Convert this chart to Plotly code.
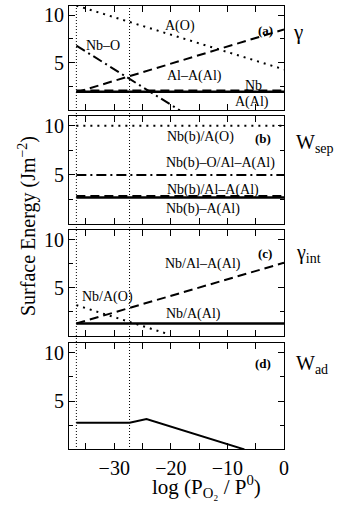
import plotly.graph_objects as go
from plotly.subplots import make_subplots

# ---- data ----
x_lo, x_hi = -36.7, 0.0          # plotted span of log(PO2/P0)
x_mark = [-36.7, -27.3]          # vertical dotted guides

# panel (a) gamma
a_AO_x = [-36.7, 0.0];  a_AO_y = [11.0, 4.3]
a_AlAAl_x = [-36.7, 0.0]; a_AlAAl_y = [1.9, 8.5]
a_NbO_x = [-36.7, -18.4]; a_NbO_y = [6.8, 0.0]
a_Nb_x = [-36.7, 0.0]; a_Nb_y = [2.1, 2.1]
a_AAl_x = [-36.7, 0.0]; a_AAl_y = [1.95, 1.95]

# panel (b) Wsep
b_AO_y = 10.0
b_NbO_y = 5.0
b_AlAAl_y = 2.85
b_AAl_y = 2.7

# panel (c) gamma_int
c_AlAAl_x = [-36.7, 0.0]; c_AlAAl_y = [1.3, 7.6]
c_AO_x = [-36.7, -20.5]; c_AO_y = [3.2, 0.2]
c_AAl_y = 1.3

# panel (d) Wad
d_x = [-36.7, -27.3, -24.3, -7.0]
d_y = [2.75, 2.75, 3.15, 0.0]

x_ticks = [-30, -20, -10, 0]
x_minor = [-35, -25, -15, -5]
y_ticks = [5, 10]
y_minor = [2.5, 7.5]

FONT = "Liberation Serif"
W, H = 343, 506
L, R, T, B = 69, 284, 5, 450

def xp(px):
    return (px - L) / (R - L)

def yp(py):
    return (B - py) / (B - T)

fig = make_subplots(rows=4, cols=1)

blk = "black"
def line(xs, ys, row, dash="solid", width=2.2):
    fig.add_trace(go.Scatter(x=xs, y=ys, mode="lines",
                             line=dict(color=blk, width=width, dash=dash),
                             showlegend=False, hoverinfo="skip"), row=row, col=1)

DASH = "9px,5px"
DOT = "2px,5px"
DASHDOT = "10px,4px,2px,4px"

# (a)
line(a_AO_x, a_AO_y, 1, DOT, 2)
line(a_AlAAl_x, a_AlAAl_y, 1, DASH, 2)
line(a_NbO_x, a_NbO_y, 1, DASHDOT, 2)
line(a_Nb_x, a_Nb_y, 1, DASH, 2)
line(a_AAl_x, a_AAl_y, 1, "solid", 2.5)
# (b)
line([x_lo, x_hi], [b_AO_y, b_AO_y], 2, DOT, 2)
line([x_lo, x_hi], [b_NbO_y, b_NbO_y], 2, DASHDOT, 2)
line([x_lo, x_hi], [b_AlAAl_y, b_AlAAl_y], 2, DASH, 2)
line([x_lo, x_hi], [b_AAl_y, b_AAl_y], 2, "solid", 2.5)
# (c)
line(c_AlAAl_x, c_AlAAl_y, 3, DASH, 2)
line(c_AO_x, c_AO_y, 3, DOT, 2)
line([x_lo, x_hi], [c_AAl_y, c_AAl_y], 3, "solid", 2.5)
# (d)
line(d_x, d_y, 4, "solid", 2)

domains = [(yp(110.4), yp(5.6)), (yp(224), yp(116)), (yp(336), yp(230)), (yp(449.4), yp(343))]
for i, dom in enumerate(domains, start=1):
    sfx = "" if i == 1 else str(i)
    fig.layout["yaxis" + sfx].update(
        domain=list(dom), range=[0, 11], tickvals=y_ticks,
        ticks="inside", ticklen=6, tickwidth=1.2, tickcolor=blk,
        minor=dict(tickvals=y_minor, ticks="inside", ticklen=4, tickcolor=blk, tickwidth=1.1),
        showline=True, linecolor=blk, linewidth=1.2, mirror="ticks",
        showgrid=False, zeroline=False,
        tickfont=dict(family=FONT, size=20, color=blk))
    fig.layout["xaxis" + sfx].update(
        domain=[0, 1], range=[-38, 0], tickvals=x_ticks,
        ticks="inside", ticklen=6, tickwidth=1.2, tickcolor=blk,
        minor=dict(tickvals=x_minor, ticks="inside", ticklen=6, tickcolor=blk, tickwidth=1.1),
        showline=True, linecolor=blk, linewidth=1.2, mirror="ticks",
        showgrid=False, zeroline=False, showticklabels=(i == 4),
        tickfont=dict(family=FONT, size=20, color=blk))

# vertical dotted guides spanning all panels
for xv in x_mark:
    fig.add_shape(type="line", xref="x4", yref="paper", x0=xv, x1=xv, y0=0, y1=1,
                  line=dict(color=blk, width=1, dash="1px,2px"))

def ann(text, px, py, size=14, anchor="center", bold=False):
    if bold:
        text = "<b>" + text + "</b>"
    fig.add_annotation(text=text, xref="paper", yref="paper", x=xp(px), y=yp(py),
                       xanchor=anchor, yanchor="middle", showarrow=False,
                       font=dict(family=FONT, size=size, color=blk))

# (a) labels
ann("A(O)", 180, 26)
ann("Nb–O", 103, 46)
ann("Al–A(Al)", 194, 76)
ann("Nb", 253, 85)
ann("A(Al)", 252, 102)
ann("(a)", 265, 30, 13, bold=True)
ann("γ", 298, 32, 21)
# (b)
ann("Nb(b)/A(O)", 200, 137)
ann("(b)", 263, 138, 13, bold=True)
ann("Nb(b)–O/Al–A(Al)", 220, 163)
ann("Nb(b)/Al–A(Al)", 213, 190)
ann("Nb(b)–A(Al)", 203, 209)
ann("W<sub>sep</sub>", 294, 143, 20, anchor="left")
# (c)
ann("Nb/Al–A(Al)", 203, 264)
ann("(c)", 265, 253, 13, bold=True)
ann("γ<sub>int</sub>", 294, 254, 20, anchor="left")
ann("Nb/A(O)", 107, 297)
ann("Nb/A(Al)", 193, 314)
# (d)
ann("(d)", 263, 363, 13, bold=True)
ann("W<sub>ad</sub>", 294, 364, 20, anchor="left")

# axis titles
ann("log (P<sub>O₂</sub> / P<sup>0</sup>)", 206, 486, 21)
fig.add_annotation(text="Surface Energy (Jm<sup>−2</sup>)", xref="paper", yref="paper",
                   x=xp(27), y=yp(226), textangle=-90, showarrow=False,
                   xanchor="center", yanchor="middle",
                   font=dict(family=FONT, size=20, color=blk))

fig.update_layout(width=W, height=H, margin=dict(l=L, r=W - R, t=T, b=H - B),
                  paper_bgcolor="white", plot_bgcolor="white", showlegend=False)

fig.write_html("out.html", config={"displayModeBar": False},
               post_script="document.body.style.margin='0';")
